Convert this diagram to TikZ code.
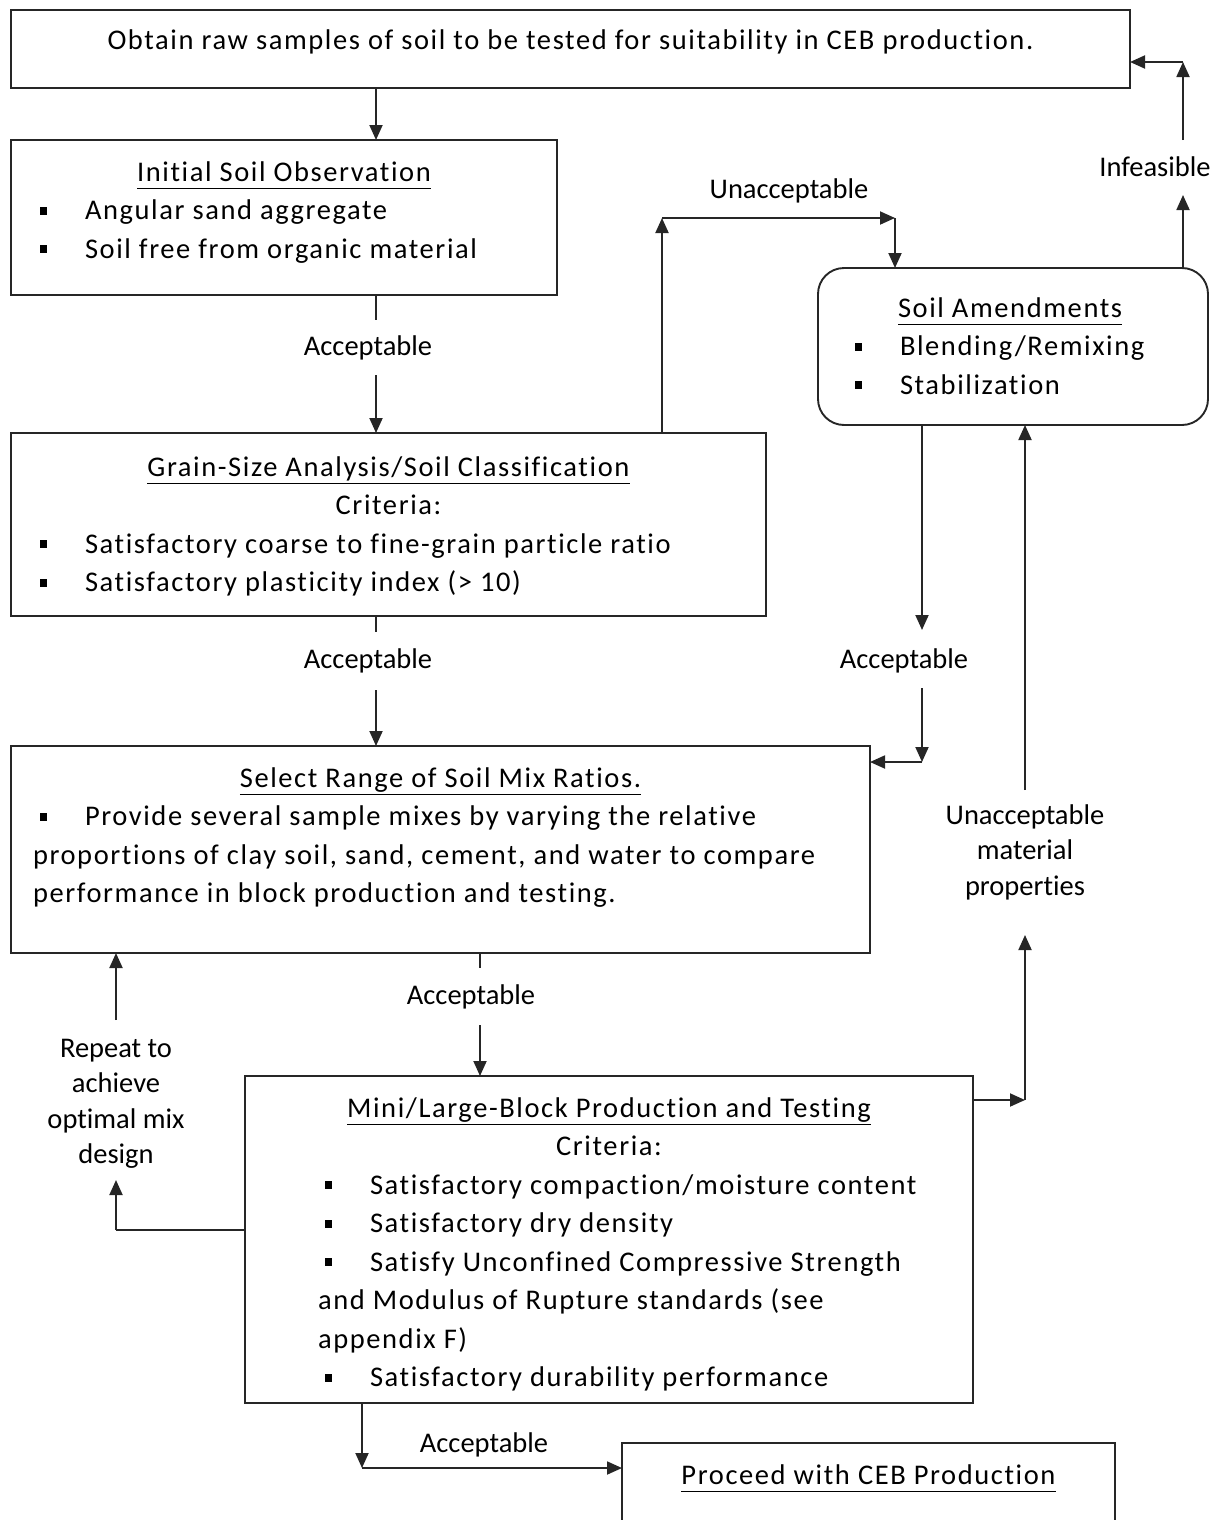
\documentclass[tikz,border=0pt]{standalone}
\usepackage{fontspec}
\setmainfont{Carlito}[Ligatures=NoCommon]
\newfontfamily\boxfont{Carlito}[Ligatures=NoCommon, LetterSpace=5.6]
\usetikzlibrary{arrows.meta}

% square bullet, indented bullet item, underlined title
\newcommand\sqbul{\rule[5pt]{7pt}{8pt}}
\newcommand\bitem{\makebox[52pt][l]{\hspace*{7pt}\sqbul}}
\newcommand\ttl[1]{\setbox0\hbox{#1}\rlap{\rule[-8pt]{\wd0}{1.5pt}}\box0}
\newcommand\cenline[1]{\makebox[\linewidth]{#1}\par}
\newcommand\lline[1]{\makebox[\linewidth][l]{#1}\par}
% width, height, first baseline, lines
\newcommand\boxtxt[4]{\begin{minipage}[t][#2][t]{#1}\boxfont\rule{0pt}{#3}#4\end{minipage}}

\tikzset{
  every node/.style={font=\fontsize{28.5}{38.5}\selectfont},
  box/.style={draw=black!85, line width=1.9pt, inner sep=0pt, outer sep=0pt, anchor=north west},
  lbl/.style={inner sep=0pt, align=center, font=\fontsize{28.5}{35.5}\selectfont},
  ln/.style={draw=black!85, line width=1.9pt},
  arr/.style={ln, -{Triangle[length=15pt,width=13pt]}}
}

\begin{document}
\begin{tikzpicture}[x=1pt,y=-1pt]
\useasboundingbox (0,0) rectangle (1221,1520);

% boxes
\node[box] (top) at (11,10) {\boxtxt{1119pt}{78pt}{40pt}{%
  \cenline{Obtain raw samples of soil to be tested for suitability in CEB production.}}};
\node[box] (obs) at (11,140) {\boxtxt{546pt}{155pt}{41pt}{%
  \cenline{\ttl{Initial Soil Observation}}
  \lline{\hspace*{22pt}\bitem Angular sand aggregate}
  \lline{\hspace*{22pt}\bitem Soil free from organic material}}};
\node[box] (grain) at (11,433) {\boxtxt{755pt}{183pt}{43pt}{%
  \cenline{\ttl{Grain-Size Analysis/Soil Classification}}
  \cenline{Criteria:}
  \lline{\hspace*{22pt}\bitem Satisfactory coarse to fine-grain particle ratio}
  \lline{\hspace*{22pt}\bitem Satisfactory plasticity index (> 10)}}};
\node[box] (mix) at (11,746) {\boxtxt{859pt}{207pt}{41pt}{%
  \cenline{\ttl{Select Range of Soil Mix Ratios.}}
  \lline{\hspace*{22pt}\bitem Provide several sample mixes by varying the relative}
  \lline{\hspace*{22pt}proportions of clay soil, sand, cement, and water to compare}
  \lline{\hspace*{22pt}performance in block production and testing.}}};
\node[box] (mini) at (245,1076) {\boxtxt{728pt}{327pt}{41pt}{%
  \cenline{\ttl{Mini/Large-Block Production and Testing}}
  \cenline{Criteria:}
  \lline{\hspace*{73pt}\bitem Satisfactory compaction/moisture content}
  \lline{\hspace*{73pt}\bitem Satisfactory dry density}
  \lline{\hspace*{73pt}\bitem Satisfy Unconfined Compressive Strength}
  \lline{\hspace*{73pt}and Modulus of Rupture standards (see}
  \lline{\hspace*{73pt}appendix F)}
  \lline{\hspace*{73pt}\bitem Satisfactory durability performance}}};
\node[box, rounded corners=26pt] (amend) at (818,268) {\boxtxt{390pt}{157pt}{49pt}{%
  \lline{\hspace*{80pt}\ttl{Soil Amendments}}
  \lline{\hspace*{30pt}\bitem Blending/Remixing}
  \lline{\hspace*{30pt}\bitem Stabilization}}};
\node[box] (proc) at (622,1443) {\boxtxt{493pt}{95pt}{41pt}{%
  \cenline{\ttl{Proceed with CEB Production}}}};

% labels
\node[lbl] (acc1) at (368,348) {Acceptable};
\node[lbl] (acc2) at (368,661) {Acceptable};
\node[lbl] (acc3) at (471,997) {Acceptable};
\node[lbl] (acc4) at (484,1445) {Acceptable};
\node[lbl] (acc5) at (904,661) {Acceptable};
\node[lbl] (unacc) at (789,191) {Unacceptable};
\node[lbl] (infeas) at (1155,167) {Infeasible};
\node[lbl] (unmat) at (1025,852) {Unacceptable\\material\\properties};
\node[lbl] (repeat) at (116,1104) {Repeat to\\achieve\\optimal mix\\design};

% turning points
\coordinate (a1top) at (376,320); \coordinate (a1bot) at (376,375);
\coordinate (a2top) at (376,632); \coordinate (a2bot) at (376,690);
\coordinate (a3top) at (480,968); \coordinate (a3bot) at (480,1025);
\coordinate (b1) at (362,1468);
\coordinate (r1) at (116,1230); \coordinate (r2) at (116,1180); \coordinate (r3) at (116,1020);
\coordinate (u1) at (1025,1100); \coordinate (u2) at (1025,935); \coordinate (u3) at (1025,790);
\coordinate (g1) at (662,218); \coordinate (g2) at (895,218);
\coordinate (k1) at (922,630); \coordinate (k2) at (922,688); \coordinate (k3) at (922,762);
\coordinate (f1) at (1183,195); \coordinate (f2) at (1183,140); \coordinate (f3) at (1183,62);

% main column
\draw[arr] (top.south -| a1top) -- (obs.north -| a1top);
\draw[ln] (obs.south -| a1top) -- (a1top);
\draw[arr] (a1bot) -- (grain.north -| a1bot);
\draw[ln] (grain.south -| a2top) -- (a2top);
\draw[arr] (a2bot) -- (mix.north -| a2bot);
\draw[ln] (mix.south -| a3top) -- (a3top);
\draw[arr] (a3bot) -- (mini.north -| a3bot);
\draw[arr] (mini.south -| b1) -- (b1);
\draw[arr] (b1) -- (proc.west |- b1);

% repeat loop
\draw[ln] (mini.west |- r1) -- (r1);
\draw[arr] (r1) -- (r2);
\draw[arr] (r3) -- (mix.south -| r3);

% unacceptable material
\draw[arr] (mini.east |- u1) -- (u1);
\draw[arr] (u1) -- (u2);
\draw[arr] (u3) -- (amend.south -| u3);

% grain -> amendments
\draw[arr] (grain.north -| g1) -- (g1);
\draw[arr] (g1) -- (g2);
\draw[arr] (g2) -- (amend.north -| g2);

% amendments -> mix
\draw[arr] (amend.south -| k1) -- (k1);
\draw[arr] (k2) -- (k3);
\draw[arr] (k3) -- (mix.east |- k3);

% infeasible
\draw[arr] (amend.north -| f1) -- (f1);
\draw[arr] (f2) -- (f3);
\draw[arr] (f3) -- (top.east |- f3);
\end{tikzpicture}
\end{document}
